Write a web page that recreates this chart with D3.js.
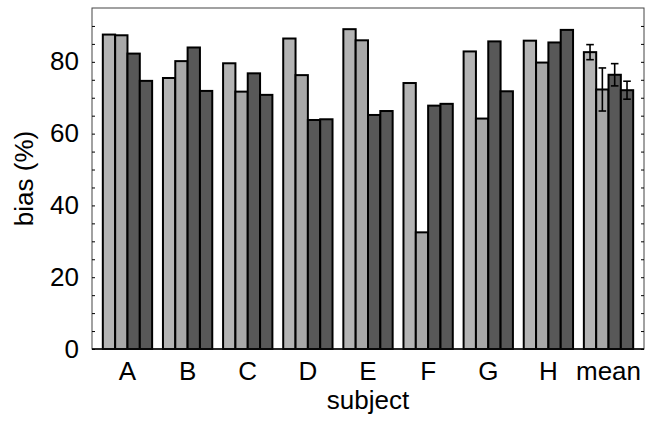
<!DOCTYPE html>
<html>
<head>
<meta charset="utf-8">
<script src="https://cdn.jsdelivr.net/npm/d3@7"></script>
<style>
  html, body { margin: 0; padding: 0; background: #fff; }
  svg { display: block; }
  text { font-family: "Liberation Sans", Arial, Helvetica, sans-serif; fill: #000; }
</style>
</head>
<body>
<script>
const categories = ["A", "B", "C", "D", "E", "F", "G", "H", "mean"];
const series1 = [87.6, 75.5, 79.6, 86.5, 89.1, 74.1, 82.9, 85.9, 82.7];
const series2 = [87.4, 80.2, 71.7, 76.3, 86.0, 32.5, 64.2, 79.8, 72.3];
const series3 = [82.3, 84.0, 76.8, 63.8, 65.2, 67.8, 85.7, 85.4, 76.4];
const series4 = [74.7, 71.9, 70.8, 64.0, 66.3, 68.3, 71.8, 88.9, 72.1];
const meanErrors = [2.1, 6.0, 3.1, 2.5];
const yTickLabels = [0, 20, 40, 60, 80];
const seriesColors = ["#b4b4b4", "#a8a8a8", "#585858", "#585858"];

const W = 654, H = 422;
const margin = {top: 8, right: 10, bottom: 73, left: 92};
const iw = W - margin.left - margin.right;
const ih = H - margin.top - margin.bottom;

const svg = d3.select("body").append("svg").attr("width", W).attr("height", H);
const g = svg.append("g").attr("transform", `translate(${margin.left},${margin.top})`);

const x = d3.scaleBand().domain(categories).range([0, iw]).paddingInner(0.18).paddingOuter(0.18);
const xs = d3.scaleBand().domain([0, 1, 2, 3]).range([0, x.bandwidth()]);
const y = d3.scaleLinear().domain([0, 95]).range([ih, 0]);

const allSeries = [series1, series2, series3, series4];
const rows = [];
categories.forEach((c, i) => {
  allSeries.forEach((s, k) => rows.push({c, k, v: s[i]}));
});

g.selectAll("rect.bar").data(rows).enter().append("rect")
  .attr("class", "bar")
  .attr("x", d => x(d.c) + xs(d.k))
  .attr("y", d => y(d.v))
  .attr("width", xs.bandwidth())
  .attr("height", d => y(0) - y(d.v))
  .attr("fill", d => seriesColors[d.k])
  .attr("stroke", "#000")
  .attr("stroke-width", 2);

// error bars on mean
const errRows = meanErrors.map((e, k) => ({k, v: allSeries[k][categories.length - 1], e}));
const eg = g.selectAll("g.err").data(errRows).enter().append("g").attr("class", "err")
  .attr("stroke", "#000").attr("stroke-width", 1.6);
const cx = d => x("mean") + xs(d.k) + xs.bandwidth() / 2;
eg.append("line").attr("x1", cx).attr("x2", cx).attr("y1", d => y(d.v + d.e)).attr("y2", d => y(d.v - d.e));
eg.append("line").attr("x1", d => cx(d) - 3.8).attr("x2", d => cx(d) + 3.8).attr("y1", d => y(d.v + d.e)).attr("y2", d => y(d.v + d.e));
eg.append("line").attr("x1", d => cx(d) - 3.8).attr("x2", d => cx(d) + 3.8).attr("y1", d => y(d.v - d.e)).attr("y2", d => y(d.v - d.e));

// frame
g.append("rect").attr("x", 0).attr("y", 0).attr("width", iw).attr("height", ih)
  .attr("fill", "none").attr("stroke", "#444").attr("stroke-width", 1);
g.append("line").attr("x1", 0).attr("x2", iw).attr("y1", ih).attr("y2", ih)
  .attr("stroke", "#000").attr("stroke-width", 1.5);

// y axis ticks (inward, every 5)
const minor = d3.range(0, 95, 5);
const yl = d3.axisLeft(y).tickValues(minor).tickSize(-3).tickFormat("");
const yAx = g.append("g").call(yl);
yAx.select(".domain").remove();
yAx.selectAll("line").attr("stroke", "#000");
const yr = d3.axisRight(y).tickValues(minor).tickSize(-3).tickFormat("");
const yAxR = g.append("g").attr("transform", `translate(${iw},0)`).call(yr);
yAxR.select(".domain").remove();
yAxR.selectAll("line").attr("stroke", "#000");

// y labels
g.selectAll("text.ylab").data(yTickLabels).enter().append("text")
  .attr("class", "ylab")
  .attr("x", -13).attr("y", d => y(d)).attr("dy", "0.33em")
  .attr("text-anchor", "end").attr("font-size", 26).text(d => d);

// x labels
g.selectAll("text.xlab").data(categories).enter().append("text")
  .attr("class", "xlab")
  .attr("x", d => x(d) + x.bandwidth() / 2).attr("y", 372)
  .attr("text-anchor", "middle").attr("font-size", 26).text(d => d);

// axis titles
svg.append("text").attr("x", margin.left + iw / 2).attr("y", 409)
  .attr("text-anchor", "middle").attr("font-size", 26).text("subject");
svg.append("text").attr("transform", `translate(33,${margin.top + ih / 2}) rotate(-90)`)
  .attr("text-anchor", "middle").attr("font-size", 26).text("bias (%)");
</script>
</body>
</html>
